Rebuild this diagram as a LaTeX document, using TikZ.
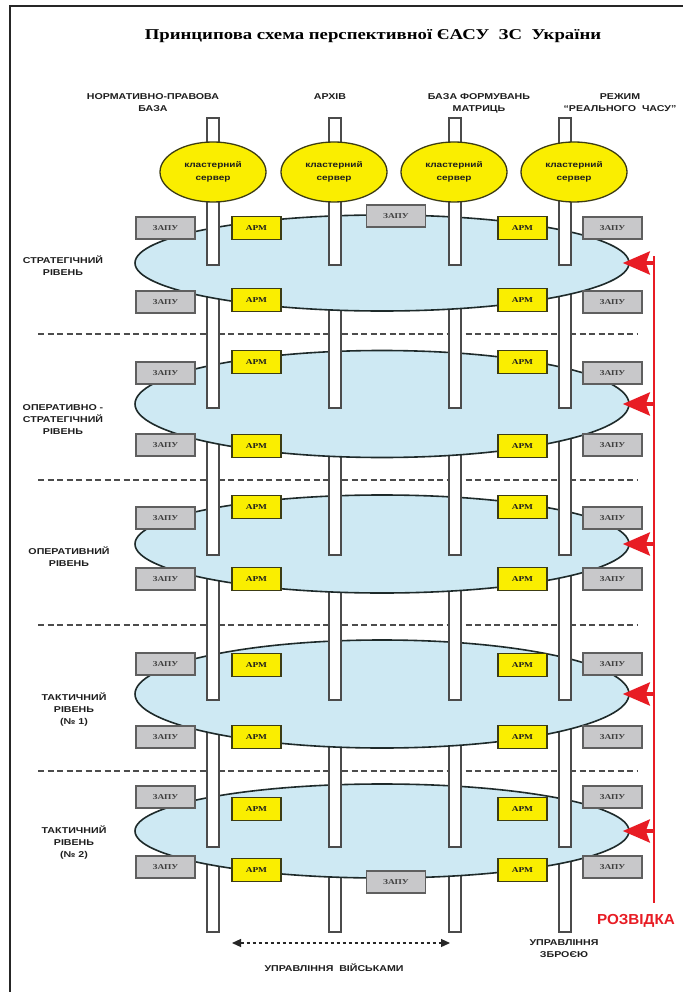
\documentclass[tikz,border=0pt]{standalone}
\usepackage{fontspec}
\setmainfont{Liberation Serif}[FakeStretch=1.25]
\newfontfamily\hdr{Liberation Sans}[FakeStretch=1.25]
\newfontfamily\redfont{Liberation Sans}[FakeStretch=1.05]
\usetikzlibrary{shapes.geometric,arrows.meta}
\definecolor{lvlfill}{RGB}{206,233,243}
\definecolor{lvldraw}{RGB}{30,42,42}
\definecolor{ylw}{RGB}{250,238,0}
\definecolor{ylwdraw}{RGB}{60,60,20}
\definecolor{gryfill}{RGB}{200,200,202}
\definecolor{grydraw}{RGB}{95,95,95}
\definecolor{barline}{RGB}{75,75,75}
\definecolor{redc}{RGB}{232,28,36}
\definecolor{txt}{RGB}{30,30,30}
\begin{document}
\begin{tikzpicture}[x=1pt,y=-1pt,
  lvl/.style={ellipse, draw=lvldraw, fill=lvlfill, line width=1.6pt, inner sep=0pt, minimum width=494pt},
  cluster/.style={ellipse, draw=ylwdraw, fill=ylw, line width=1.3pt, inner sep=0pt, minimum width=106pt, minimum height=60pt, align=center, font=\hdr\bfseries\fontsize{8}{13}\selectfont, text=txt},
  zapu/.style={rectangle, draw=grydraw, fill=gryfill, line width=1.8pt, inner sep=0pt, minimum width=59pt, minimum height=22pt, font=\bfseries\fontsize{7.5}{8}\selectfont, text=txt!85},
  arm/.style={rectangle, draw=ylwdraw, fill=ylw, line width=1.5pt, inner sep=0pt, minimum width=49pt, minimum height=23pt, font=\bfseries\fontsize{7.5}{8}\selectfont, text=txt},
  bar/.style={draw=barline, fill=white, line width=1.2pt},
  sep/.style={draw=black!70, line width=1.2pt, dash pattern=on 6pt off 3.5pt},
  hdrtext/.style={align=center, font=\hdr\bfseries\fontsize{8.5}{12}\selectfont, text=txt, inner sep=0pt},
  redarr/.style={draw=redc, line width=3.5pt, -{Stealth[length=27pt, width=23pt, inset=4pt]}},
  title/.style={font=\bfseries\fontsize{15}{18}\selectfont, text=black, inner sep=0pt}
]
\useasboundingbox (0,0) rectangle (683,992);
\fill[white] (0,0) rectangle (683,992);
\draw[line width=2.5pt, black!85] (10,992) -- (10,6) -- (683,6);

\node[title] (ttl) at (373,36) {Принципова схема перспективної ЄАСУ\ \ ЗС\ \ України};

\node[hdrtext] (h1) at (153,103) {НОРМАТИВНО-ПРАВОВА\\БАЗА};
\node[hdrtext] (h2) at (330,97) {АРХІВ};
\node[hdrtext] (h3) at (479,103) {БАЗА ФОРМУВАНЬ\\МАТРИЦЬ};
\node[hdrtext] (h4) at (620,103) {РЕЖИМ\\“РЕАЛЬНОГО\ \ ЧАСУ”};

% separators
\draw[sep] (38,334) -- (638,334);
\draw[sep] (38,480) -- (638,480);
\draw[sep] (38,625) -- (638,625);
\draw[sep] (38,771) -- (638,771);

% bars and level ellipses, drawn bottom-up so each bar starts under the level above
\foreach \x in {213,335,455,565} \draw[bar] (\x-6,831) rectangle (\x+6,932);
\node[lvl, minimum height=94pt] (L5) at (382,831) {};
\foreach \x in {213,335,455,565} \draw[bar] (\x-6,694) rectangle (\x+6,847);
\node[lvl, minimum height=108pt] (L4) at (382,694) {};
\foreach \x in {213,335,455,565} \draw[bar] (\x-6,544) rectangle (\x+6,700);
\node[lvl, minimum height=98pt] (L3) at (382,544) {};
\foreach \x in {213,335,455,565} \draw[bar] (\x-6,404) rectangle (\x+6,555);
\node[lvl, minimum height=107pt] (L2) at (382,404) {};
\foreach \x in {213,335,455,565} \draw[bar] (\x-6,263) rectangle (\x+6,408);
\node[lvl, minimum height=96pt] (L1) at (382,263) {};
\foreach \x in {213,335,455,565} \draw[bar] (\x-6,118) rectangle (\x+6,265);

% cluster servers
\node[cluster] (c1) at (213,172) {кластерний\\сервер};
\node[cluster] (c2) at (334,172) {кластерний\\сервер};
\node[cluster] (c3) at (454,172) {кластерний\\сервер};
\node[cluster] (c4) at (574,172) {кластерний\\сервер};

% level 1
\node[zapu] (z1a) at (165.5,228) {ЗАПУ};
\node[arm]  (a1a) at (256.5,228) {АРМ};
\node[zapu] (z1m) at (396,216) {ЗАПУ};
\node[arm]  (a1b) at (522.5,228) {АРМ};
\node[zapu] (z1b) at (612.5,228) {ЗАПУ};
\node[zapu] (z1c) at (165.5,302) {ЗАПУ};
\node[arm]  (a1c) at (256.5,300) {АРМ};
\node[arm]  (a1d) at (522.5,300) {АРМ};
\node[zapu] (z1d) at (612.5,302) {ЗАПУ};
% level 2
\node[zapu] (z2a) at (165.5,373) {ЗАПУ};
\node[arm]  (a2a) at (256.5,362) {АРМ};
\node[arm]  (a2b) at (522.5,362) {АРМ};
\node[zapu] (z2b) at (612.5,373) {ЗАПУ};
\node[zapu] (z2c) at (165.5,445) {ЗАПУ};
\node[arm]  (a2c) at (256.5,446) {АРМ};
\node[arm]  (a2d) at (522.5,446) {АРМ};
\node[zapu] (z2d) at (612.5,445) {ЗАПУ};
% level 3
\node[zapu] (z3a) at (165.5,518) {ЗАПУ};
\node[arm]  (a3a) at (256.5,507) {АРМ};
\node[arm]  (a3b) at (522.5,507) {АРМ};
\node[zapu] (z3b) at (612.5,518) {ЗАПУ};
\node[zapu] (z3c) at (165.5,579) {ЗАПУ};
\node[arm]  (a3c) at (256.5,579) {АРМ};
\node[arm]  (a3d) at (522.5,579) {АРМ};
\node[zapu] (z3d) at (612.5,579) {ЗАПУ};
% level 4
\node[zapu] (z4a) at (165.5,664) {ЗАПУ};
\node[arm]  (a4a) at (256.5,665) {АРМ};
\node[arm]  (a4b) at (522.5,665) {АРМ};
\node[zapu] (z4b) at (612.5,664) {ЗАПУ};
\node[zapu] (z4c) at (165.5,737) {ЗАПУ};
\node[arm]  (a4c) at (256.5,737) {АРМ};
\node[arm]  (a4d) at (522.5,737) {АРМ};
\node[zapu] (z4d) at (612.5,737) {ЗАПУ};
% level 5
\node[zapu] (z5a) at (165.5,797) {ЗАПУ};
\node[arm]  (a5a) at (256.5,809) {АРМ};
\node[arm]  (a5b) at (522.5,809) {АРМ};
\node[zapu] (z5b) at (612.5,797) {ЗАПУ};
\node[zapu] (z5c) at (165.5,867) {ЗАПУ};
\node[arm]  (a5c) at (256.5,870) {АРМ};
\node[zapu] (z5m) at (396,882) {ЗАПУ};
\node[arm]  (a5d) at (522.5,870) {АРМ};
\node[zapu] (z5d) at (612.5,867) {ЗАПУ};

% level labels
\node[hdrtext] (t1) at (63,265.5) {СТРАТЕГІЧНИЙ\\РІВЕНЬ};
\node[hdrtext] (t2) at (63,420) {ОПЕРАТИВНО -\\СТРАТЕГІЧНИЙ\\РІВЕНЬ};
\node[hdrtext] (t3) at (69,556.5) {ОПЕРАТИВНИЙ\\РІВЕНЬ};
\node[hdrtext] (t4) at (74,709.5) {ТАКТИЧНИЙ\\РІВЕНЬ\\(№ 1)};
\node[hdrtext] (t5) at (74,843) {ТАКТИЧНИЙ\\РІВЕНЬ\\(№ 2)};

% intelligence line
\coordinate (rtop) at (654,256);
\coordinate (rbot) at (654,903);
\draw[redc, line width=2.2pt] (rtop) -- (rbot);
\foreach \L in {L1,L2,L3,L4,L5}
  \draw[redarr] (\L.east -| rtop) -- ([xshift=-7pt]\L.east);
\node[font=\redfont\bfseries\fontsize{14.5}{16}\selectfont, text=redc, inner sep=0pt] (rz) at (636,921) {РОЗВІДКА};

% bottom
\coordinate (ua) at (232,943);
\coordinate (ub) at (450,943);
\draw[black!85, line width=1.2pt, dash pattern=on 3.5pt off 2.5pt, {Triangle[length=9pt,width=8pt]}-{Triangle[length=9pt,width=8pt]}] (ua) -- (ub);
\node[hdrtext] (uv) at (334,968) {УПРАВЛІННЯ\ \ ВІЙСЬКАМИ};
\node[hdrtext] (uz) at (564,948.5) {УПРАВЛІННЯ\\ЗБРОЄЮ};
\end{tikzpicture}
\end{document}
